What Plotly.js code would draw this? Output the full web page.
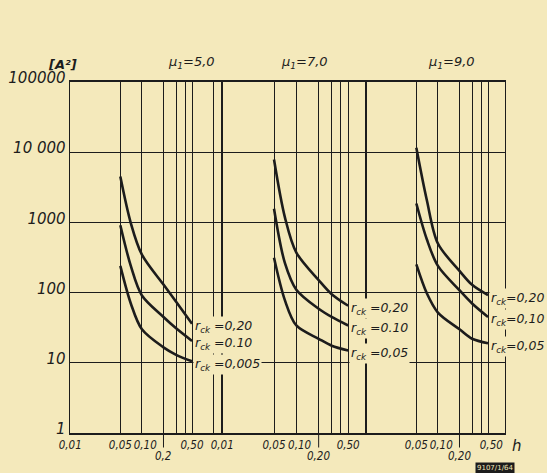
<!DOCTYPE html>
<html><head><meta charset="utf-8">
<script src="https://cdn.plot.ly/plotly-3.0.1.min.js"></script>
<style>html,body{margin:0;padding:0;background:#f4e9bb;}</style>
</head><body><div id="chart" style="width:547px;height:473px;"></div>
<script>
// h values (abscissa, shared by all curves)
const h = [0.05, 0.07, 0.1, 0.2, 0.3, 0.5];

// mu1 = 5,0
const mu5_r020 = [4500, 980, 347, 130, 74, 36];
const mu5_r010 = [912, 240, 91, 45, 31, 20.5];
const mu5_r0005 = [240, 70, 30, 16.6, 13, 10.5];
// mu1 = 7,0
const mu7_r020 = [7870, 1190, 372, 151, 95, 65];
const mu7_r010 = [1566, 265, 110, 59, 45, 34];
const mu7_r005 = [313, 78, 34, 22, 17.5, 15];
// mu1 = 9,0
const mu9_r020 = [11600, 2090, 500, 204, 129, 92];
const mu9_r010 = [1860, 575, 240, 108, 70, 45];
const mu9_r005 = [252, 98, 52, 30, 22, 19];

const panelTitles = ["μ<sub>1</sub>=5,0", "μ<sub>1</sub>=7,0", "μ<sub>1</sub>=9,0"];
const labels5 = ["r<sub>ck</sub> =0,20", "r<sub>ck</sub> =0.10", "r<sub>ck</sub> =0,005"];
const labels7 = ["r<sub>ck</sub> =0,20", "r<sub>ck</sub> =0.10", "r<sub>ck</sub> =0,05"];
const labels9 = ["r<sub>ck</sub>=0,20", "r<sub>ck</sub>=0,10", "r<sub>ck</sub>=0,05"];

const NB = '\u00A0';
const yTickVals = [1, 10, 100, 1000, 10000, 100000];
const yTickText = ["1", "10", "100", "1000", "10 000", "100000"];
const xTickVals1 = [0.01, 0.05, 0.1, 0.2, 0.3, 0.4, 0.5, 1];
const xTickText1 = ["0,01", "0,05", NB + NB + "0,10", "", "", "", "0,50", ""];
const xTickVals2 = [0.01, 0.05, 0.1, 0.2, 0.3, 0.4, 0.5];
const xTickText2 = ["0,01", "0,05", NB + NB + "0,10", "", "", "", "0,50"];
const xTickVals3 = [0.01, 0.05, 0.1, 0.2, 0.3, 0.4, 0.5];
const xTickText3 = ["", "0,05", NB + NB + "0,10", "", "", "", NB + NB + "0,50"];
// lower-row labels at h = 0,2 (drawn with a long tick)
const lowTickVal = 0.2;
const lowTexts = ["0,2", "0,20", "0,20"];

const BG = '#f4e9bb';
const INK = '#1c1c1c';
const FONT = 'DejaVu Sans';
const NARROW = 'DejaVu Sans Condensed, DejaVu Sans';

const panels = [
  {xa: 'x',  series: [mu5_r020, mu5_r010, mu5_r0005], labels: labels5},
  {xa: 'x2', series: [mu7_r020, mu7_r010, mu7_r005], labels: labels7},
  {xa: 'x3', series: [mu9_r020, mu9_r010, mu9_r005], labels: labels9}
];

const tickFont = {family: NARROW, size: 11.5, color: INK, style: 'italic'};

const traces = [];
const annotations = [];
panels.forEach((p, k) => {
  p.series.forEach((vals, i) => {
    traces.push({
      x: h, y: vals, xaxis: p.xa, yaxis: 'y', type: 'scatter', mode: 'lines',
      line: {color: INK, width: 2.6, shape: 'spline', smoothing: 0.9},
      hoverinfo: 'skip', showlegend: false
    });
    annotations.push({
      xref: p.xa, yref: 'y',
      x: Math.log10(h[h.length - 1]), y: Math.log10(vals[vals.length - 1]),
      xanchor: 'left', yanchor: 'middle', xshift: 1, yshift: -3,
      text: p.labels[i], showarrow: false, bgcolor: BG, borderpad: 1,
      font: {family: FONT, size: 12.5, color: INK, style: 'italic'}
    });
  });
  annotations.push({
    xref: p.xa, yref: 'paper', x: Math.log10(lowTickVal), y: 0,
    text: lowTexts[k], showarrow: true, arrowhead: 0, arrowwidth: 1, arrowcolor: INK,
    ax: 0, ay: 23, standoff: 0, font: tickFont
  });
});

const titleX = [0.280, 0.538, 0.876];
panelTitles.forEach((t, i) => {
  annotations.push({
    xref: 'paper', yref: 'paper', x: titleX[i], y: 1, xanchor: 'center', yanchor: 'bottom',
    yshift: 9, text: t, showarrow: false,
    font: {family: FONT, size: 13, color: INK, style: 'italic'}
  });
});
annotations.push({
  xref: 'paper', yref: 'paper', x: 0, y: 1, xanchor: 'center', yanchor: 'bottom',
  xshift: -8, yshift: 8, text: '[A²]', showarrow: false,
  font: {family: FONT, size: 13, color: INK, style: 'italic', weight: 'bold'}
});
annotations.push({
  xref: 'paper', yref: 'paper', x: 1, y: 0, xanchor: 'left', yanchor: 'top',
  xshift: 5, yshift: -2, text: 'h', showarrow: false,
  font: {family: FONT, size: 15, color: INK, style: 'italic'}
});
annotations.push({
  xref: 'paper', yref: 'paper', x: 1, y: 0, xanchor: 'right', yanchor: 'top',
  xshift: 10, yshift: -29, text: '9107/1/64', showarrow: false, bgcolor: INK, borderpad: 1,
  font: {family: FONT, size: 7, color: BG}
});

function xaxisDef(domain, range, tv, tt) {
  return {
    type: 'log', domain: domain, range: range, anchor: 'y',
    tickmode: 'array', tickvals: tv, ticktext: tt, ticks: '', tickangle: 0,
    showgrid: true, gridcolor: INK, gridwidth: 1, zeroline: false,
    showline: true, linecolor: INK, linewidth: 1.8, mirror: true,
    tickfont: tickFont
  };
}

const layout = {
  width: 547, height: 473,
  paper_bgcolor: BG, plot_bgcolor: BG,
  margin: {l: 70, r: 42, t: 82, b: 40},
  showlegend: false,
  xaxis: xaxisDef([0, 0.3494], [-2.003, 0.117], xTickVals1, xTickText1),
  xaxis2: xaxisDef([0.3494, 0.6805], [-2.003, -0.06], xTickVals2, xTickText2),
  xaxis3: xaxisDef([0.6805, 1], [-2.003, -0.064], xTickVals3, xTickText3),
  yaxis: {
    type: 'log', range: [0, 5], anchor: 'x',
    tickmode: 'array', tickvals: yTickVals, ticktext: yTickText, ticks: '',
    ticklabelshift: -4,
    showgrid: true, gridcolor: INK, gridwidth: 1, zeroline: false,
    showline: true, linecolor: INK, linewidth: 1.4, mirror: 'all',
    tickfont: {family: FONT, size: 15, color: INK, style: 'italic'}
  },
  annotations: annotations
};

Plotly.newPlot('chart', traces, layout, {displayModeBar: false, staticPlot: true});
</script>
</body></html>
